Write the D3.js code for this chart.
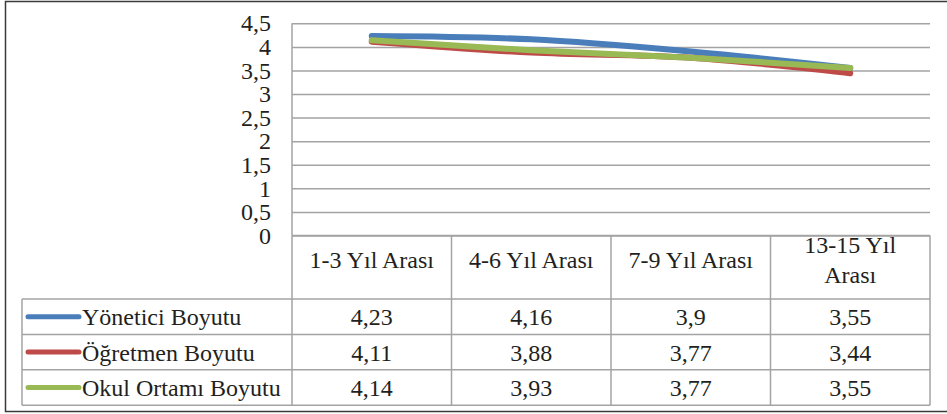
<!DOCTYPE html>
<html>
<head>
<meta charset="utf-8">
<script src="https://cdn.jsdelivr.net/npm/d3@7"></script>
<style>
  body { margin: 0; background: #fff; }
</style>
</head>
<body>
<svg id="chart" width="947" height="414" font-family="Liberation Serif"></svg>
<script>
const categories = ["1-3 Yıl Arası", "4-6 Yıl Arası", "7-9 Yıl Arası", "13-15 Yıl Arası"];
const seriesNames = ["Yönetici Boyutu", "Öğretmen Boyutu", "Okul Ortamı Boyutu"];
const yonetici = [4.23, 4.16, 3.9, 3.55];
const ogretmen = [4.11, 3.88, 3.77, 3.44];
const okulOrtami = [4.14, 3.93, 3.77, 3.55];
const yTicks = [0, 0.5, 1, 1.5, 2, 2.5, 3, 3.5, 4, 4.5];
const colors = ["#4a7ebb", "#be4b48", "#98b954"];

const series = [yonetici, ogretmen, okulOrtami].map((values, i) => ({
  name: seriesNames[i], values, color: colors[i]
}));

const PLOT_LEFT = 292, PLOT_RIGHT = 930;
const PLOT_TOP = 23.3, PLOT_BOTTOM = 235.5;
const TABLE_LEFT = 22, HEADER_BOTTOM = 299, ROW_H = 35.4;
const FONT = "Liberation Serif";
const FONT_SIZE = 24;
const TEXT_COLOR = "#231f20";
const GRID = "#a3a3a3";

const comma = v => String(v).replace(".", ",");

const svg = d3.select("#chart");

function styleText(sel) {
  return sel
    .attr("font-family", FONT)
    .attr("font-size", FONT_SIZE)
    .style("font-family", FONT)
    .style("font-size", FONT_SIZE + "px")
    .attr("fill", TEXT_COLOR);
}

// outer frame (right edge runs off the picture)
svg.append("rect")
  .attr("x", 5.5).attr("y", 1.5)
  .attr("width", 960).attr("height", 410)
  .attr("fill", "none")
  .attr("stroke", "#3a3a3a")
  .attr("stroke-width", 1.5);

const x = d3.scaleBand().domain(categories).range([PLOT_LEFT, PLOT_RIGHT]);
const y = d3.scaleLinear().domain([0, 4.5]).range([PLOT_BOTTOM, PLOT_TOP]);

// grid + y labels
const yAxis = svg.append("g")
  .attr("transform", `translate(${PLOT_LEFT},0)`)
  .call(d3.axisLeft(y).tickValues(yTicks).tickFormat(comma)
    .tickSize(-(PLOT_RIGHT - PLOT_LEFT)).tickPadding(21))
  .attr("font-family", FONT)
  .attr("font-size", FONT_SIZE);
yAxis.select(".domain").remove();
yAxis.selectAll(".tick line").attr("stroke", GRID).attr("stroke-width", 1.5);
styleText(yAxis.selectAll(".tick text"));

// plot left edge
svg.append("line")
  .attr("x1", PLOT_LEFT).attr("x2", PLOT_LEFT)
  .attr("y1", PLOT_TOP).attr("y2", PLOT_BOTTOM)
  .attr("stroke", GRID).attr("stroke-width", 1.5);

// lines
const line = d3.line()
  .x((d, i) => x(categories[i]) + x.bandwidth() / 2)
  .y(d => y(d))
  .curve(d3.curveCatmullRom.alpha(0.5));

svg.append("g").selectAll("path")
  .data(series)
  .join("path")
    .attr("d", d => line(d.values))
    .attr("fill", "none")
    .attr("stroke", d => d.color)
    .attr("stroke-width", 6)
    .attr("stroke-linecap", "round")
    .attr("stroke-linejoin", "round");

// data table
const table = svg.append("g");
const tableBottom = HEADER_BOTTOM + ROW_H * series.length;

table.append("line")
  .attr("x1", PLOT_LEFT).attr("x2", PLOT_RIGHT)
  .attr("y1", PLOT_BOTTOM).attr("y2", PLOT_BOTTOM);
// column separators
table.selectAll(".col")
  .data(categories.map(c => x(c)).concat([PLOT_RIGHT]))
  .join("line")
    .attr("class", "col")
    .attr("x1", d => d).attr("x2", d => d)
    .attr("y1", PLOT_BOTTOM).attr("y2", tableBottom);
// row separators
table.selectAll(".row")
  .data(d3.range(series.length + 1))
  .join("line")
    .attr("class", "row")
    .attr("x1", TABLE_LEFT).attr("x2", PLOT_RIGHT)
    .attr("y1", i => HEADER_BOTTOM + i * ROW_H)
    .attr("y2", i => HEADER_BOTTOM + i * ROW_H);
table.append("line")
  .attr("x1", TABLE_LEFT).attr("x2", TABLE_LEFT)
  .attr("y1", HEADER_BOTTOM).attr("y2", tableBottom);
table.selectAll("line").attr("stroke", GRID).attr("stroke-width", 1.5);

// header labels, wrapped when too wide
const HEADER_BASE = 268;
categories.forEach(cat => {
  const cx = x(cat) + x.bandwidth() / 2;
  const t = styleText(table.append("text"))
    .attr("x", cx)
    .attr("y", HEADER_BASE)
    .attr("text-anchor", "middle")
    .text(cat);
  if (t.node().getComputedTextLength() > x.bandwidth() - 20) {
    const words = cat.split(" ");
    const lines = [words.slice(0, -1).join(" "), words[words.length - 1]];
    t.text(null);
    lines.forEach((l, k) => {
      t.append("tspan")
        .attr("x", cx)
        .attr("y", HEADER_BASE - 15 + k * 30)
        .text(l);
    });
  }
});

// body rows
series.forEach((s, r) => {
  const cy = HEADER_BOTTOM + r * ROW_H + ROW_H / 2;
  table.append("line")
    .attr("x1", 28).attr("x2", 79)
    .attr("y1", cy).attr("y2", cy)
    .attr("stroke", s.color)
    .attr("stroke-width", 5)
    .attr("stroke-linecap", "round");
  styleText(table.append("text"))
    .attr("x", 82).attr("y", cy).attr("dy", "0.35em")
    .text(s.name);
  s.values.forEach((v, i) => {
    styleText(table.append("text"))
      .attr("x", x(categories[i]) + x.bandwidth() / 2)
      .attr("y", cy).attr("dy", "0.35em")
      .attr("text-anchor", "middle")
      .text(comma(v));
  });
});
</script>
</body>
</html>
